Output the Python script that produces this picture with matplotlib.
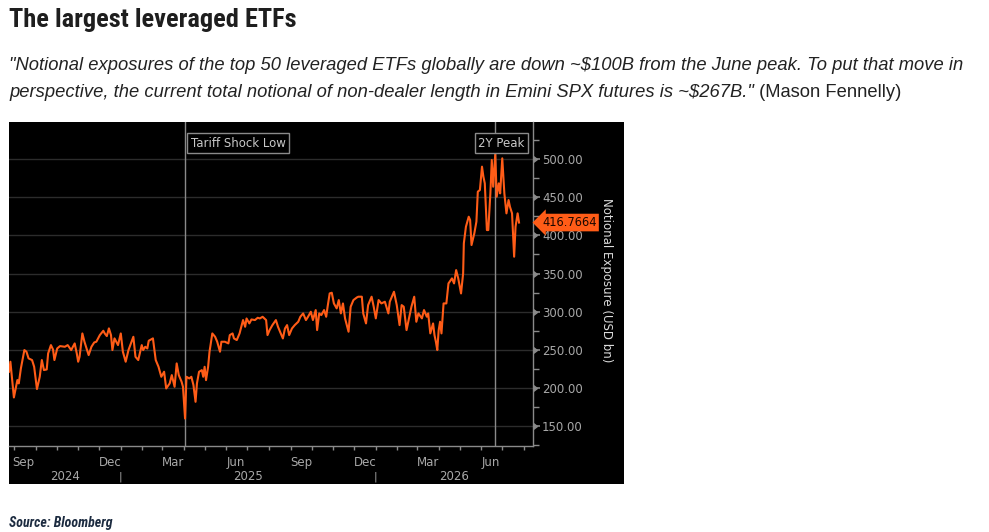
import matplotlib
matplotlib.use('Agg')
import matplotlib.pyplot as plt
import matplotlib.dates as mdates
import matplotlib.transforms as mtransforms
from matplotlib.patches import Rectangle
from matplotlib.text import Annotation
import pandas as pd

# notional exposure of top 50 leveraged ETFs (USD bn)
dates = [
    '2024-07-25', '2024-07-27', '2024-08-01', '2024-08-06', '2024-08-08', '2024-08-11', '2024-08-16',
    '2024-08-19', '2024-08-22', '2024-08-27', '2024-08-30',
    '2024-09-03', '2024-09-07', '2024-09-10', '2024-09-13', '2024-09-17', '2024-09-19', '2024-09-23',
    '2024-09-26', '2024-09-28',
    '2024-10-02', '2024-10-06', '2024-10-13', '2024-10-17', '2024-10-22', '2024-10-27', '2024-10-30',
    '2024-11-01', '2024-11-03', '2024-11-07', '2024-11-10', '2024-11-16', '2024-11-20', '2024-11-24', '2024-11-27',
    '2024-12-02', '2024-12-07', '2024-12-09', '2024-12-12', '2024-12-15', '2024-12-18', '2024-12-20',
    '2024-12-23', '2024-12-28',
    '2025-01-01', '2025-01-04', '2025-01-08', '2025-01-12', '2025-01-19', '2025-01-22', '2025-01-26', '2025-01-31',
    '2025-02-02', '2025-02-05', '2025-02-08', '2025-02-10', '2025-02-16', '2025-02-20', '2025-02-24', '2025-02-28',
    '2025-03-04', '2025-03-07', '2025-03-12', '2025-03-15', '2025-03-19', '2025-03-22', '2025-03-25',
    '2025-03-29', '2025-03-31',
    '2025-04-03', '2025-04-05', '2025-04-09', '2025-04-12', '2025-04-15', '2025-04-18', '2025-04-20',
    '2025-04-23', '2025-04-27', '2025-04-29',
    '2025-05-01', '2025-05-03', '2025-05-06', '2025-05-08', '2025-05-12', '2025-05-16', '2025-05-19',
    '2025-05-23', '2025-05-25', '2025-05-30',
    '2025-06-04', '2025-06-06', '2025-06-10', '2025-06-12', '2025-06-16', '2025-06-20', '2025-06-25',
    '2025-06-28', '2025-06-30',
    '2025-07-04', '2025-07-07', '2025-07-12', '2025-07-16', '2025-07-19', '2025-07-23', '2025-07-28', '2025-07-30',
    '2025-08-02', '2025-08-06', '2025-08-11', '2025-08-14', '2025-08-18', '2025-08-21', '2025-08-24',
    '2025-08-27', '2025-08-30',
    '2025-09-03', '2025-09-07', '2025-09-12', '2025-09-15', '2025-09-19', '2025-09-23', '2025-09-26', '2025-09-30',
    '2025-10-03', '2025-10-07', '2025-10-09', '2025-10-12', '2025-10-15', '2025-10-19', '2025-10-22',
    '2025-10-24', '2025-10-27', '2025-10-30',
    '2025-11-02', '2025-11-06', '2025-11-09', '2025-11-12', '2025-11-15', '2025-11-18', '2025-11-23',
    '2025-11-26', '2025-11-30',
    '2025-12-05', '2025-12-07', '2025-12-12', '2025-12-14', '2025-12-18', '2025-12-21', '2025-12-26', '2025-12-29',
    '2026-01-01', '2026-01-05', '2026-01-09', '2026-01-14', '2026-01-19', '2026-01-21', '2026-01-27', '2026-01-31',
    '2026-02-04', '2026-02-07', '2026-02-10', '2026-02-14', '2026-02-18', '2026-02-21', '2026-02-25', '2026-02-28',
    '2026-03-03', '2026-03-08', '2026-03-11', '2026-03-15', '2026-03-17', '2026-03-20', '2026-03-24',
    '2026-03-26', '2026-03-28', '2026-03-30',
    '2026-04-01', '2026-04-03', '2026-04-05', '2026-04-08', '2026-04-12', '2026-04-15', '2026-04-20',
    '2026-04-23', '2026-04-26', '2026-04-29',
    '2026-05-03', '2026-05-06', '2026-05-07', '2026-05-10', '2026-05-14', '2026-05-16', '2026-05-18',
    '2026-05-22', '2026-05-25', '2026-05-27', '2026-05-30',
    '2026-06-02', '2026-06-04', '2026-06-06', '2026-06-09', '2026-06-11', '2026-06-14', '2026-06-16',
    '2026-06-18', '2026-06-21', '2026-06-23', '2026-06-26', '2026-06-28',
    '2026-07-01', '2026-07-04', '2026-07-07', '2026-07-10', '2026-07-12', '2026-07-15', '2026-07-18',
    '2026-07-20', '2026-07-23', '2026-07-25',
]
values = [
    221.3, 234.4, 187.6, 210.4, 206, 225.6, 249.7, 247.5, 238.8, 236.6, 227.8,
    198.6, 214.7, 236.6, 223.5, 224.3, 245.3, 256.2, 250.5, 236.6,
    251.8, 254.9, 254, 256.2, 249.7, 258.4, 245.3,
    234.4, 240.9, 271.5, 260.6, 243.1, 254, 259.7, 260.6,
    269.3, 275, 271.5, 268, 278.1, 269.3, 249.7, 265, 256.2,
    271.5, 247.5, 234.4, 249.7, 267.1, 240.9, 236.6, 256.2,
    249.7, 254, 251.8, 261.9, 265, 236.6, 227.8, 214.7,
    221.3, 199.4, 206, 216.9, 201.6, 232.2, 216.9, 208.2, 201.6,
    160, 214.7, 212.5, 214.7, 203.8, 181.9, 206, 221.2, 223.4, 214.7,
    227.8, 210.3, 227.8, 247.5, 271.5, 267.1, 260.6, 247.5, 260.6, 260.6,
    258.4, 269.3, 271.5, 264.9, 262.8, 271.5, 289, 280.2, 291.1,
    284.6, 289.8, 289, 292, 291.1, 293.3, 289, 269.3,
    275.9, 282.4, 289, 280.2, 271.5, 264.9, 278, 282.4, 269.3,
    278, 282.4, 286.8, 293.3, 297.7, 289, 293.3, 299.9,
    289, 302.1, 275.9, 297.7, 295.5, 302.1, 293.3, 306.4, 323.9, 324.8,
    310.8, 304.3, 315.2, 297.7, 310.8, 291.1, 273.7, 306.4, 315.2,
    318.7, 319.6, 319.6, 297.7, 284.6, 308.6, 319.6, 306.5,
    291.2, 315.2, 310.8, 313, 297.7, 313, 326.1, 308.6,
    282.4, 308.6, 306.5, 275.9, 293.4, 306.5, 319.6, 286.8,
    297.7, 291.2, 302.1, 293.4, 297.7, 271.5, 284.6, 269.3, 260.6, 249.7,
    275.9, 286.8, 271.5, 310.8, 310.8, 337, 343.6, 337, 354.5, 343.6,
    323.9, 350.1, 389.5, 411.3, 424.4, 420.1, 387.3, 402.6, 417.9, 457.2, 459.4,
    490, 476.9, 468.1, 406.9, 406.9, 455, 498.7, 463.7, 506.6, 450.6, 468.1, 455,
    500.9, 455, 428.8, 446.3, 437.5, 428.8, 372, 411.3, 428.8, 416.7664,
]

events = ['Tariff Shock Low', '2Y Peak']
event_dates = ['2025-04-03', '2026-06-21']

month_labels = ['Sep', 'Dec', 'Mar', 'Jun', 'Sep', 'Dec', 'Mar', 'Jun']
month_label_dates = ['2024-09-01', '2024-12-01', '2025-03-01', '2025-06-01',
                     '2025-09-01', '2025-12-01', '2026-03-01', '2026-06-01']
years = ['2024', '2025', '2026']
y_ticks = [150, 200, 250, 300, 350, 400, 450, 500]

x_start, x_end = pd.Timestamp('2024-07-25'), pd.Timestamp('2026-08-14')

ORANGE = '#ff5c17'
GRID = '#2c2c2c'
AXIS = '#8a8a8a'
TICK_TXT = '#a8a8a8'
# condensed faces for the header and source line, whatever is installed
NARROW = ['Liberation Sans Narrow', 'Roboto Condensed', 'DejaVu Sans Condensed', 'DejaVu Sans']


def dnum(d):
    return mdates.date2num(pd.Timestamp(d))


s = pd.Series(values, index=pd.to_datetime(dates))

W, H = 989, 532
fig = plt.figure(figsize=(W / 100, H / 100), dpi=100)
fig.patch.set_facecolor('white')

# black chart panel
fig.add_artist(Rectangle((9 / W, 1 - 484 / H), 615 / W, 362 / H, transform=fig.transFigure,
                         facecolor='black', edgecolor='none', zorder=-1))

ax = fig.add_axes([9 / W, 1 - 446 / H, 524 / W, 324 / H])
ax.set_facecolor('black')
ax.plot(s.index, s.values, color=ORANGE, lw=1.5, zorder=3)

ax.set_xlim(x_start, x_end)
ax.set_ylim(124, 548.5)

for side in ['left', 'top']:
    ax.spines[side].set_visible(False)
for side in ['right', 'bottom']:
    ax.spines[side].set_color(AXIS)
    ax.spines[side].set_linewidth(1)

ax.yaxis.tick_right()
ax.set_yticks(y_ticks)
ax.set_yticks([v + 25 for v in y_ticks] + [125], minor=True)
ax.yaxis.set_major_formatter(matplotlib.ticker.FuncFormatter(lambda v, p: '{:.2f}'.format(v)))
ax.tick_params(axis='y', which='major', direction='out', length=5, width=1.2, color=AXIS,
               labelcolor=TICK_TXT, labelsize=8.5, pad=1.5)
ax.tick_params(axis='y', which='minor', direction='out', length=4, width=1, color=AXIS)
ax.grid(axis='y', which='major', color=GRID, lw=1)

# little arrow heads on the major y ticks
ytrans = mtransforms.blended_transform_factory(ax.transAxes, ax.transData)
ax.plot([1.0] * len(y_ticks), y_ticks, linestyle='none', marker=5, markersize=4,
        color=AXIS, transform=ytrans + mtransforms.ScaledTranslation(4 / 100, 0, fig.dpi_scale_trans),
        clip_on=False, zorder=4)

ax.xaxis.set_major_locator(mdates.MonthLocator())
ax.xaxis.set_major_formatter(matplotlib.ticker.NullFormatter())
ax.tick_params(axis='x', which='major', direction='out', length=3, width=1, color=AXIS)

trans = mtransforms.blended_transform_factory(ax.transData, ax.transAxes)
for i, (lab, d) in enumerate(zip(month_labels, month_label_dates)):
    xd = dnum(d)
    if i == 0:
        # first label is pushed to the left edge of the panel
        xd = dnum(x_start) + 4
    ax.text(xd, -0.052, lab, transform=trans, ha='left', va='center',
            color=TICK_TXT, fontsize=8.5)
for y in years:
    y0 = max(dnum(y + '-01-01'), dnum(x_start))
    y1 = min(dnum(str(int(y) + 1) + '-01-01'), dnum(x_end))
    ax.text((y0 + y1) / 2, -0.095, y, transform=trans, ha='center', va='center',
            color=TICK_TXT, fontsize=8.5)
    if dnum(y + '-01-01') > dnum(x_start):
        ax.text(dnum(y + '-01-01'), -0.095, '|', transform=trans, ha='center',
                va='center', color=TICK_TXT, fontsize=8)

# event markers
box = dict(boxstyle='square,pad=0.3', facecolor='black', edgecolor=AXIS, lw=1)
for ev, d in zip(events, event_dates):
    ax.axvline(pd.Timestamp(d), color=AXIS, lw=1, zorder=2)
ax.annotate(events[0], xy=(dnum(event_dates[0]), 0.934), xycoords=trans,
            xytext=(4, 0), textcoords='offset points', ha='left', va='center',
            color='#c8c8c8', fontsize=8.5, bbox=box, zorder=5)
ax.annotate(events[1], xy=(1, 0.934), xycoords='axes fraction',
            xytext=(-6, 0), textcoords='offset points', ha='right', va='center',
            color='#c8c8c8', fontsize=8.5, bbox=box, zorder=5)

# last value tag
ax.annotate('{:.4f}'.format(values[-1]), xy=(1, values[-1]),
            xycoords=('axes fraction', 'data'), xytext=(6.5, 0), textcoords='offset points',
            ha='left', va='center', fontsize=8.3, color='#1a0700',
            bbox=dict(boxstyle='larrow,pad=0.2', facecolor=ORANGE, edgecolor='none'),
            annotation_clip=False, zorder=6)

fig.text(607 / W, 1 - 280 / H, 'Notional Exposure (USD bn)', rotation=270, ha='center',
         va='center', color='#dcdcdc', fontsize=8.5)

# header
fig.text(9 / W, 1 - 27 / H, 'The largest leveraged ETFs', family=NARROW, weight='bold',
         stretch='condensed', fontsize=19, color='#1e1e1e', va='baseline')
fig.text(9 / W, 1 - 70 / H,
         '"Notional exposures of the top 50 leveraged ETFs globally are down ~$100B from the June peak. '
         'To put that move in', style='italic', fontsize=13.2, color='#222222', va='baseline',
         family='Liberation Sans')
line2 = fig.text(9 / W, 1 - 97 / H,
                 'perspective, the current total notional of non-dealer length in Emini SPX futures is ~$267B."',
                 style='italic', fontsize=13.2, color='#222222', va='baseline', family='Liberation Sans')
fig.add_artist(Annotation(' (Mason Fennelly)', xy=(1, 0), xycoords=line2, ha='left', va='bottom',
                          fontsize=13.2, color='#222222', family='Liberation Sans'))

fig.text(9 / W, 1 - 523 / H, 'Source: Bloomberg', family=NARROW, weight='bold', style='italic',
         stretch='condensed', fontsize=10, color='#1c2b40', va='center')

fig.savefig('out.png', dpi=100, facecolor='white')
